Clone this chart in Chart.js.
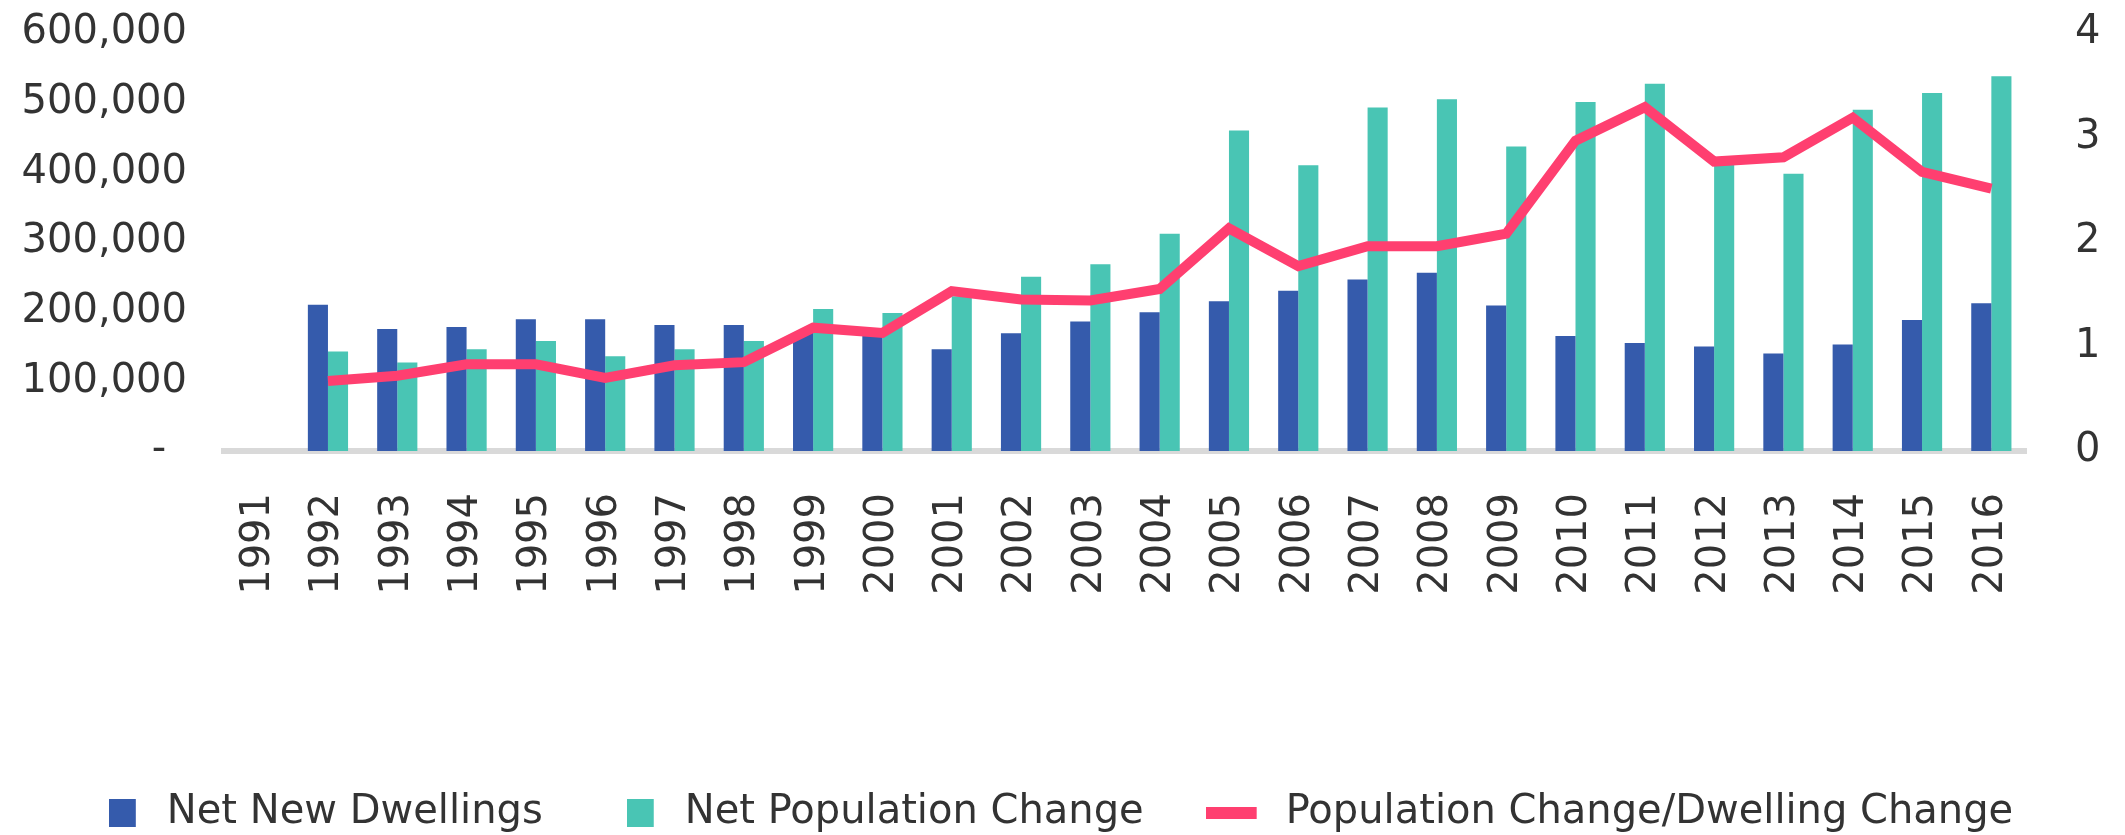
<!DOCTYPE html>
<html>
<head>
<meta charset="utf-8">
<title>Net New Dwellings vs Net Population Change</title>
<script src="https://cdn.jsdelivr.net/npm/chart.js@4.4.1/dist/chart.umd.min.js"></script>
<style>
  html, body { margin: 0; padding: 0; background: #ffffff; }
  #wrap { width: 2125px; height: 835px; position: relative; }
</style>
</head>
<body>
<div id="wrap"><canvas id="chart"></canvas></div>
<script>
// Datos
const years = ["1991", "1992", "1993", "1994", "1995", "1996", "1997", "1998", "1999", "2000",
  "2001", "2002", "2003", "2004", "2005", "2006", "2007", "2008", "2009", "2010",
  "2011", "2012", "2013", "2014", "2015", "2016"];

const netNewDwellings = [null, 210000, 175000, 178000, 189000, 189000, 181000, 181000, 170000, 165000,
  146000, 169000, 186000, 199000, 215000, 230000, 246000, 256000, 209000, 165000,
  155000, 150000, 140000, 153000, 188000, 212000];

const netPopulationChange = [null, 143000, 127000, 146000, 158000, 136000, 146000, 158000, 204000, 198000,
  222000, 250000, 268000, 312000, 460000, 410000, 493000, 505000, 437000, 501000,
  527000, 413000, 398000, 490000, 514000, 538000];

const popPerDwelling = [null, 0.67, 0.72, 0.83, 0.83, 0.70, 0.82, 0.85, 1.18, 1.13,
  1.53, 1.45, 1.44, 1.55, 2.13, 1.77, 1.96, 1.96, 2.08, 2.97,
  3.29, 2.77, 2.81, 3.19, 2.67, 2.51];

const leftTicks = [0, 100000, 200000, 300000, 400000, 500000, 600000];
const rightTicks = [0, 1, 2, 3, 4];

const BLUE = '#355BAC';
const TEAL = '#49C5B4';
const PINK = '#FF3F70';
const TEXT = '#333333';

Chart.defaults.font.family = "'DejaVu Sans', sans-serif";
Chart.defaults.font.size = 40;
Chart.defaults.color = TEXT;

// marcas de la leyenda (cuadrado para barras, trazo para la línea)
function makeMark(canvasW, markW, markH, color) {
  const c = document.createElement('canvas');
  c.width = canvasW;
  c.height = markH;
  const g = c.getContext('2d');
  g.fillStyle = color;
  g.fillRect(0, 0, markW, markH);
  return c;
}
const legendMarks = [
  makeMark(38, 27, 28, BLUE),
  makeMark(38, 27, 28, TEAL),
  makeMark(82, 51, 12, PINK)
];

// quita el relleno extra que Chart.js añade arriba/abajo de los ejes verticales
function fixVertical(width) {
  return (scale) => {
    scale.width = width;
    scale.paddingTop = 0;
    scale.paddingBottom = 0;
  };
}

new Chart(document.getElementById('chart').getContext('2d'), {
  type: 'bar',
  data: {
    labels: years,
    datasets: [
      {
        label: 'Net New Dwellings',
        data: netNewDwellings,
        backgroundColor: BLUE,
        borderWidth: 0,
        yAxisID: 'y',
        order: 1,
        categoryPercentage: 0.58,
        barPercentage: 1.0
      },
      {
        label: 'Net Population Change',
        data: netPopulationChange,
        backgroundColor: TEAL,
        borderWidth: 0,
        yAxisID: 'y',
        order: 1,
        categoryPercentage: 0.58,
        barPercentage: 1.0
      },
      {
        type: 'line',
        label: 'Population Change/Dwelling Change',
        data: popPerDwelling,
        borderColor: PINK,
        backgroundColor: PINK,
        borderWidth: 10,
        pointRadius: 0,
        pointHoverRadius: 0,
        tension: 0,
        borderJoinStyle: 'miter',
        fill: false,
        yAxisID: 'y1',
        order: 0
      }
    ]
  },
  options: {
    responsive: true,
    maintainAspectRatio: false,
    animation: false,
    layout: {
      padding: { top: 33, left: 22, right: 25, bottom: -8 }
    },
    plugins: {
      tooltip: { enabled: false },
      title: { display: false },
      legend: {
        position: 'bottom',
        labels: {
          usePointStyle: true,
          pointStyleWidth: 38,
          padding: 84,
          color: TEXT,
          font: { size: 40 },
          generateLabels(chart) {
            const items = Chart.defaults.plugins.legend.labels.generateLabels(chart);
            items.forEach((it) => { it.pointStyle = legendMarks[it.datasetIndex]; });
            return items.sort((a, b) => a.datasetIndex - b.datasetIndex);
          }
        }
      }
    },
    scales: {
      x: {
        grid: { display: false, drawTicks: false },
        border: { display: true, color: '#D9D9D9', width: 6 },
        ticks: {
          autoSkip: false,
          minRotation: 90,
          maxRotation: 90,
          padding: 42,
          color: TEXT,
          font: { size: 40 }
        },
        afterFit(scale) {
          scale.height = 258;
        }
      },
      y: {
        position: 'left',
        min: leftTicks[0],
        max: leftTicks[leftTicks.length - 1],
        grid: { display: false, drawTicks: false },
        border: { display: false },
        afterBuildTicks(axis) {
          axis.ticks = leftTicks.map((v) => ({ value: v }));
        },
        afterFit: fixVertical(202),
        ticks: {
          padding: 37,
          color: TEXT,
          font: { size: 40 },
          callback: (v) => (v === 0 ? '-\u00a0\u2009' : Number(v).toLocaleString('en-US'))
        }
      },
      y1: {
        position: 'right',
        min: rightTicks[0],
        max: rightTicks[rightTicks.length - 1],
        grid: { display: false, drawTicks: false },
        border: { display: false },
        afterBuildTicks(axis) {
          axis.ticks = rightTicks.map((v) => ({ value: v }));
        },
        afterFit: fixVertical(74),
        ticks: {
          padding: 49,
          color: TEXT,
          font: { size: 40 }
        }
      }
    }
  }
});
</script>
</body>
</html>
